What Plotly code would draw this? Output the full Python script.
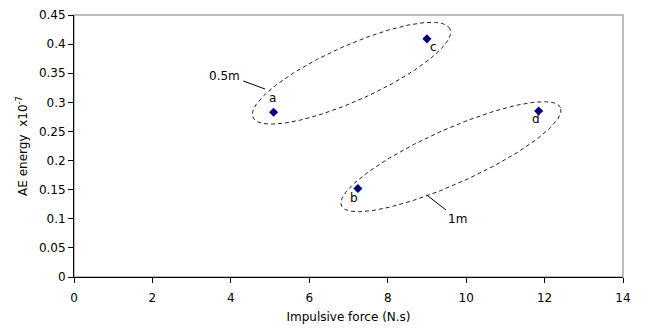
import numpy as np
import plotly.graph_objects as go

# Data
labels = ["a", "b", "c", "d"]
impulsive_force = [5.09, 7.24, 9.00, 11.85]
ae_energy = [0.283, 0.152, 0.409, 0.285]
label_offsets = [(-1, -14), (-4, 9), (7, 8), (-3, 8)]  # pixel offsets (x, y-down)

x_ticks = list(range(0, 15, 2))
y_ticks = [0, 0.05, 0.1, 0.15, 0.2, 0.25, 0.3, 0.35, 0.4, 0.45]

# Layout geometry
W, H = 652, 330
L, R, T, B = 74, 29, 15, 53
pw, ph = W - L - R, H - T - B
xs = pw / 14.0
ys = ph / 0.45
FONT = "DejaVu Sans, Liberation Sans, Arial, sans-serif"

def px2data(px, py):
    return (px - L) / xs, (T + ph - py) / ys

fig = go.Figure()

# Ellipses (center in pixels, semi axes in pixels, angle deg)
ellipses = [((351.5, 73.2), 108, 27.5, 24.2), ((451, 156.7), 120, 27.2, 24.15)]
t = np.linspace(0, 2 * np.pi, 300)
for (cx, cy), a, b, ang in ellipses:
    th = np.deg2rad(ang)
    dx = a * np.cos(t) * np.cos(th) - b * np.sin(t) * np.sin(th)
    dy = a * np.cos(t) * np.sin(th) + b * np.sin(t) * np.cos(th)
    x0, y0 = px2data(cx, cy)
    fig.add_trace(go.Scatter(x=x0 + dx / xs, y=y0 + dy / ys, mode="lines",
                             line=dict(color="#222222", width=1, dash="4px,3px"),
                             hoverinfo="skip", showlegend=False))

fig.add_trace(go.Scatter(x=impulsive_force, y=ae_energy, mode="markers",
                         marker=dict(symbol="diamond", size=7, color="#000080"),
                         showlegend=False))

for lab, xv, yv, (ox, oy) in zip(labels, impulsive_force, ae_energy, label_offsets):
    fig.add_annotation(x=xv, y=yv, text=lab, showarrow=False, xshift=ox, yshift=-oy,
                       font=dict(size=12, color="#000000"))

# callouts
callouts = [("0.5m", (224, 75.5), (243.3, 81), (265, 89)),
            ("1m", (457, 219), (426.7, 195), (446, 210))]
for txt, (tx, ty), (x1, y1), (x2, y2) in callouts:
    a1 = px2data(x1, y1)
    a2 = px2data(x2, y2)
    fig.add_shape(type="line", x0=a1[0], y0=a1[1], x1=a2[0], y1=a2[1],
                  line=dict(color="#000000", width=1))
    tp = px2data(tx, ty)
    fig.add_annotation(x=tp[0], y=tp[1], text=txt, showarrow=False,
                       font=dict(size=12, color="#000000"))

# grey plot-area border
fig.add_shape(type="rect", xref="paper", yref="paper", x0=0, y0=0, x1=1, y1=1,
              line=dict(color="#a6a6a6", width=1.5), layer="below")

fig.update_layout(
    width=W, height=H,
    margin=dict(l=L, r=R, t=T, b=B, autoexpand=False),
    paper_bgcolor="white", plot_bgcolor="white",
    font=dict(family=FONT, size=12, color="#000000"),
    xaxis=dict(range=[0, 14], tickvals=x_ticks, ticks="outside", ticklen=5,
               tickcolor="#000000", showline=True, linecolor="#000000", linewidth=1,
               showgrid=False, zeroline=False, fixedrange=True, ticklabelstandoff=5,
               automargin=False,
               title=dict(text="Impulsive force (N.s)", standoff=8,
                          font=dict(size=12))),
    yaxis=dict(range=[0, 0.45], tickvals=y_ticks,
               ticktext=[("%g" % v) for v in y_ticks],
               ticks="outside", ticklen=5, tickcolor="#000000",
               showline=True, linecolor="#000000", linewidth=1,
               showgrid=False, zeroline=False, fixedrange=True, automargin=False,
               title=dict(text="AE energy  x10<sup>-7</sup>", standoff=8,
                          font=dict(size=12))),
)

fig.write_html("out.html")
